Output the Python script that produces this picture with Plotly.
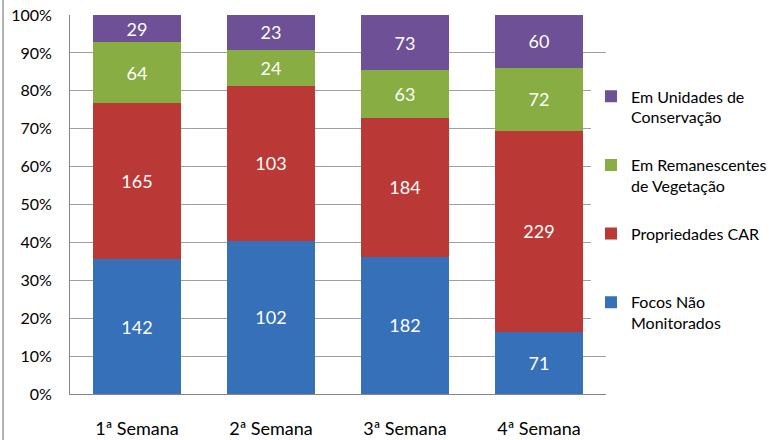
import plotly.graph_objects as go

categories = ["1ª Semana", "2ª Semana", "3ª Semana", "4ª Semana"]
focos_nao_monitorados = [142, 102, 182, 71]
propriedades_car = [165, 103, 184, 229]
remanescentes_vegetacao = [64, 24, 63, 72]
unidades_conservacao = [29, 23, 73, 60]

series = [
    ("Focos Não<br>Monitorados", focos_nao_monitorados, "#3670B8"),
    ("Propriedades CAR<br>&nbsp;", propriedades_car, "#BA3835"),
    ("Em Remanescentes<br>de Vegetação", remanescentes_vegetacao, "#88AD42"),
    ("Em Unidades de<br>Conservação", unidades_conservacao, "#6E5096"),
]

FONT = "Lato, 'Open Sans', sans-serif"

fig = go.Figure()
for i, (name, vals, color) in enumerate(series):
    fig.add_trace(go.Bar(
        x=categories, y=vals, name=name,
        marker=dict(color=color, line=dict(width=0)),
        text=[str(v) for v in vals],
        textposition="inside", insidetextanchor="middle",
        textangle=0, constraintext="none",
        textfont=dict(color="white", size=18, family=FONT),
        legendgroup=f"g{i}",
        legendrank=1000 - i * 10,
        hoverinfo="skip",
    ))

fig.update_layout(
    width=773, height=440,
    margin=dict(l=70, r=167, t=15, b=46, autoexpand=False),
    barmode="stack", barnorm="percent", bargap=0.35,
    plot_bgcolor="white", paper_bgcolor="white",
    font=dict(family=FONT, color="#000000"),
    showlegend=True,
    legend=dict(
        x=0.972, xanchor="left", y=0.83, yanchor="top",
        traceorder="grouped", tracegroupgap=24,
        valign="top",
        font=dict(size=16, family=FONT, color="#000000"),
        itemwidth=30,
    ),
    xaxis=dict(
        showgrid=False, showline=True, linecolor="#868686", linewidth=1,
        tickfont=dict(size=18, family=FONT), ticks="",
        ticklabelstandoff=18, automargin=False,
    ),
    yaxis=dict(
        range=[0, 100], dtick=10, ticksuffix="%",
        showgrid=True, gridcolor="#A0A0A0", gridwidth=1,
        showline=True, linecolor="#868686", linewidth=1,
        tickfont=dict(size=16, family=FONT), ticks="",
        ticklabelstandoff=14, zeroline=False, automargin=False,
    ),
    shapes=[dict(
        type="line", xref="paper", yref="paper",
        x0=-0.125, x1=-0.125, y0=-0.13, y1=1.05,
        line=dict(color="#9A9A9A", width=1.5),
    )],
)

fig.write_html(
    "out.html",
    config={"displayModeBar": False},
    post_script="document.body.style.margin='0';document.body.style.padding='0';",
)
